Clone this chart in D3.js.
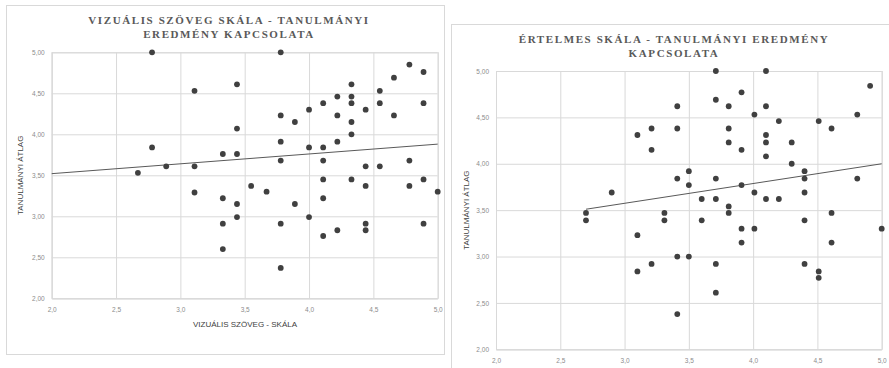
<!DOCTYPE html>
<html><head><meta charset="utf-8">
<script src="https://cdn.jsdelivr.net/npm/d3@7"></script>
<style>body{margin:0;background:#fff;}svg{display:block;}</style>
</head><body>
<svg id="c" width="889" height="368"></svg>
<script>
// ---------- DATA ----------
const xTicks = [2.0, 2.5, 3.0, 3.5, 4.0, 4.5, 5.0];
const yTicks = [2.0, 2.5, 3.0, 3.5, 4.0, 4.5, 5.0];

const leftTitle = ["VIZUÁLIS SZÖVEG SKÁLA - TANULMÁNYI", "EREDMÉNY KAPCSOLATA"];
const leftXTitle = "VIZUÁLIS SZÖVEG - SKÁLA";
const leftYTitle = "TANULMÁNYI ÁTLAG";
const leftX = [2.78,3.78,2.78,2.67,2.89,3.11,3.11,3.11,3.33,3.33,3.33,3.33,3.44,3.44,3.44,3.44,3.44,3.55,3.67,3.78,3.78,3.78,3.78,3.78,3.89,3.89,4.00,4.00,4.00,4.11,4.11,4.11,4.11,4.11,4.11,4.22,4.22,4.22,4.22,4.33,4.33,4.33,4.33,4.33,4.33,4.44,4.44,4.44,4.44,4.44,4.55,4.55,4.55,4.66,4.66,4.78,4.78,4.78,4.89,4.89,4.89,4.89,5.00];
const leftY = [5.00,5.00,3.84,3.53,3.61,4.53,3.61,3.29,3.76,3.22,2.91,2.60,4.61,4.07,3.76,3.15,2.99,3.37,3.30,4.23,3.91,3.68,2.91,2.37,4.15,3.15,4.30,3.84,2.99,4.38,3.84,3.68,3.45,3.22,2.76,4.46,4.23,3.91,2.83,4.61,4.46,4.38,4.15,4.00,3.45,4.30,3.61,3.37,2.91,2.83,4.53,4.38,3.61,4.69,4.23,4.85,3.68,3.37,4.76,4.38,3.45,2.91,3.30];
const leftTrendX = [2.0, 5.0];
const leftTrendY = [3.52, 3.88];

const rightTitle = ["ÉRTELMES SKÁLA - TANULMÁNYI EREDMÉNY", "KAPCSOLATA"];
const rightYTitle = "TANULMÁNYI ÁTLAG";
const rightX = [2.70,2.70,2.90,3.10,3.10,3.10,3.21,3.21,3.21,3.31,3.31,3.41,3.41,3.41,3.41,3.41,3.50,3.50,3.50,3.60,3.60,3.71,3.71,3.71,3.71,3.71,3.71,3.81,3.81,3.81,3.81,3.81,3.91,3.91,3.91,3.91,3.91,4.01,4.01,4.01,4.10,4.10,4.10,4.10,4.10,4.10,4.20,4.20,4.30,4.30,4.40,4.40,4.40,4.40,4.40,4.51,4.51,4.51,4.61,4.61,4.61,4.81,4.81,4.91,5.00];
const rightY = [3.47,3.39,3.69,4.31,3.23,2.84,4.38,4.15,2.92,3.47,3.39,4.62,4.38,3.84,3.00,2.38,3.92,3.77,3.00,3.62,3.39,5.00,4.69,3.84,3.62,2.92,2.61,4.62,4.38,4.23,3.54,3.47,4.77,4.15,3.77,3.30,3.15,4.53,3.69,3.30,5.00,4.62,4.31,4.23,4.08,3.62,4.46,3.62,4.23,4.00,3.92,3.84,3.69,3.39,2.92,4.46,2.84,2.77,4.38,3.47,3.15,4.53,3.84,4.84,3.30];
const rightTrendX = [2.70, 5.0];
const rightTrendY = [3.51, 4.00];

// ---------- DRAW ----------
const svg = d3.select("#c");
const fmt = (d, dec) => d.toFixed(dec).replace(".", ",");

// panel frames
svg.append("rect").attr("x",6.5).attr("y",5.5).attr("width",438).attr("height",349)
  .attr("fill","#fff").attr("stroke","#d9d9d9");
svg.append("rect").attr("x",451.5).attr("y",24.5).attr("width",445).attr("height",360)
  .attr("fill","#fff").attr("stroke","#d9d9d9");

function chart(cfg){
  const g = svg.append("g");
  const x = d3.scaleLinear().domain([2,5]).range([cfg.left, cfg.right]);
  const y = d3.scaleLinear().domain([2,5]).range([cfg.bottom, cfg.top]);

  // grid
  g.append("g").attr("transform",`translate(0,${cfg.bottom})`)
    .call(d3.axisBottom(x).tickValues(xTicks).tickSize(-(cfg.bottom-cfg.top)).tickFormat(d=>fmt(d,1)))
    .call(s=>{s.select(".domain").attr("stroke","#d9d9d9");
      s.selectAll(".tick line").attr("stroke","#d9d9d9");
      s.selectAll(".tick text").attr("fill","#8c8c8c").attr("font-size",6.5).attr("dy",cfg.xdy)
        .attr("font-family","Liberation Sans, Arial, sans-serif");});
  g.append("g").attr("transform",`translate(${cfg.left},0)`)
    .call(d3.axisLeft(y).tickValues(yTicks).tickSize(-(cfg.right-cfg.left)).tickFormat(d=>fmt(d,2)))
    .call(s=>{s.select(".domain").attr("stroke","#d9d9d9");
      s.selectAll(".tick line").attr("stroke","#d9d9d9");
      s.selectAll(".tick text").attr("fill","#8c8c8c").attr("font-size",6.5).attr("dx",-4)
        .attr("font-family","Liberation Sans, Arial, sans-serif");});

  // trend line
  const tl = d3.line().x(d=>x(d[0])).y(d=>y(d[1]));
  g.append("path").datum(d3.zip(cfg.tx, cfg.ty)).attr("d", tl)
    .attr("fill","none").attr("stroke","#595959").attr("stroke-width",1);

  // points
  g.selectAll("circle.p").data(d3.zip(cfg.xs, cfg.ys)).join("circle")
    .attr("class","p").attr("cx",d=>x(d[0])).attr("cy",d=>y(d[1])).attr("r",2.9)
    .attr("fill","#404040");

  // title
  const tt = g.append("text").attr("text-anchor","middle")
    .attr("font-family","Liberation Serif, Times New Roman, serif").attr("font-weight","bold")
    .attr("font-size",11).attr("letter-spacing",1.6).attr("fill","#595959");
  cfg.title.forEach((t,i)=>tt.append("tspan").attr("x",cfg.tcx).attr("y",cfg.ty0 + i*cfg.tlh).text(t));

  // y title
  g.append("text").attr("transform",`translate(${cfg.ytx},${(cfg.top+cfg.bottom)/2}) rotate(-90)`)
    .attr("text-anchor","middle").attr("font-family","Liberation Sans Narrow, Liberation Sans, sans-serif")
    .attr("font-size",8).attr("fill","#404040").text(cfg.ytitle);
  if(cfg.xtitle){
    g.append("text").attr("x",cfg.xtcx).attr("y",cfg.xty).attr("text-anchor","middle")
      .attr("font-family","Liberation Sans Narrow, Liberation Sans, sans-serif")
      .attr("font-size",8).attr("fill","#404040").text(cfg.xtitle);
  }
}

chart({left:51.7,right:437.7,top:52.3,bottom:298.3,xs:leftX,ys:leftY,tx:leftTrendX,ty:leftTrendY,
  title:leftTitle,tcx:229,ty0:24,tlh:14,ytitle:leftYTitle,ytx:23,xtitle:leftXTitle,xtcx:245,xty:327,xdy:"1.7em"});
chart({left:496,right:881.7,top:71,bottom:349.3,xs:rightX,ys:rightY,tx:rightTrendX,ty:rightTrendY,
  title:rightTitle,tcx:674,ty0:43,tlh:14,ytitle:rightYTitle,ytx:469,xtitle:null,xdy:"1.7em"});
</script>
</body></html>
